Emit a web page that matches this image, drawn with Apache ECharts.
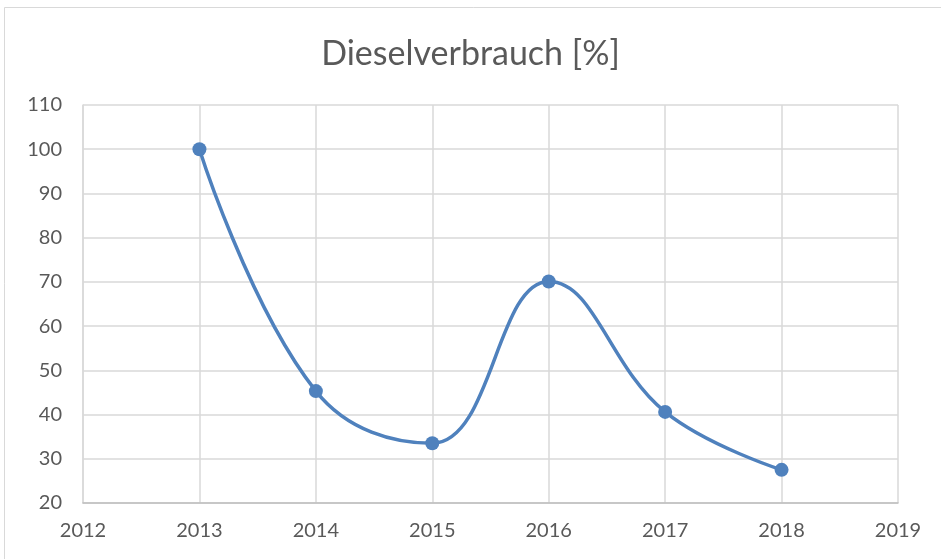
<html>
<head>
    <meta charset="utf-8" />
    <title>Dieselverbrauch</title>
    <script src="https://cdnjs.cloudflare.com/ajax/libs/echarts/6.0.0/echarts.min.js"></script>
    <style>
        body { margin: 0; background: #fff; }
    </style>
</head>
<body>
    <div id="chart" style="width: 941px;height:559px;"></div>
    <script type="text/javascript">
        // values
        var years = [2013, 2014, 2015, 2016, 2017, 2018];
        var diesel = [100, 45.3, 33.5, 70.1, 40.6, 27.5];
        var chartTitle = 'Dieselverbrauch [%]';

        var chartDom = document.getElementById('chart');
        var chart = echarts.init(chartDom);
        var font = 'Lato, "Open Sans", sans-serif';

        var option = {
            backgroundColor: '#fff',
            animation: false,
            title: {
                text: chartTitle,
                left: 'center',
                top: 32,
                textStyle: { fontFamily: font, fontSize: 34, fontWeight: 'normal', color: '#595959' }
            },
            graphic: [{
                type: 'rect',
                shape: { x: 4.5, y: 7.5, width: 960, height: 600 },
                style: { fill: 'none', stroke: '#d9d9d9', lineWidth: 1 },
                silent: true
            }],
            grid: { left: 83, right: 43, top: 105, bottom: 56, containLabel: false },
            xAxis: {
                type: 'value',
                min: 2012,
                max: 2019,
                interval: 1,
                axisLine: { show: true, lineStyle: { color: '#bfbfbf', width: 1.5 } },
                axisTick: { show: false },
                splitLine: { show: true, lineStyle: { color: '#d9d9d9', width: 1.5 } },
                axisLabel: {
                    fontFamily: font, fontSize: 20, color: '#595959', margin: 18,
                    formatter: function (v) { return String(v); }
                }
            },
            yAxis: {
                type: 'value',
                min: 20,
                max: 110,
                interval: 10,
                axisLine: { show: true, lineStyle: { color: '#d9d9d9', width: 1.5 } },
                axisTick: { show: false },
                splitLine: { show: true, lineStyle: { color: '#d9d9d9', width: 1.5 } },
                axisLabel: { fontFamily: font, fontSize: 20, color: '#595959', margin: 21 }
            },
            series: [{
                type: 'line',
                data: years.map(function (y, i) { return [y, diesel[i]]; }),
                smooth: 0.42,
                smoothConstraint: false,
                symbol: 'circle',
                symbolSize: 14,
                itemStyle: { color: '#4f81bd' },
                lineStyle: { color: '#4f81bd', width: 3.5 }
            }]
        };
        chart.setOption(option);
    </script>
</body>
</html>
